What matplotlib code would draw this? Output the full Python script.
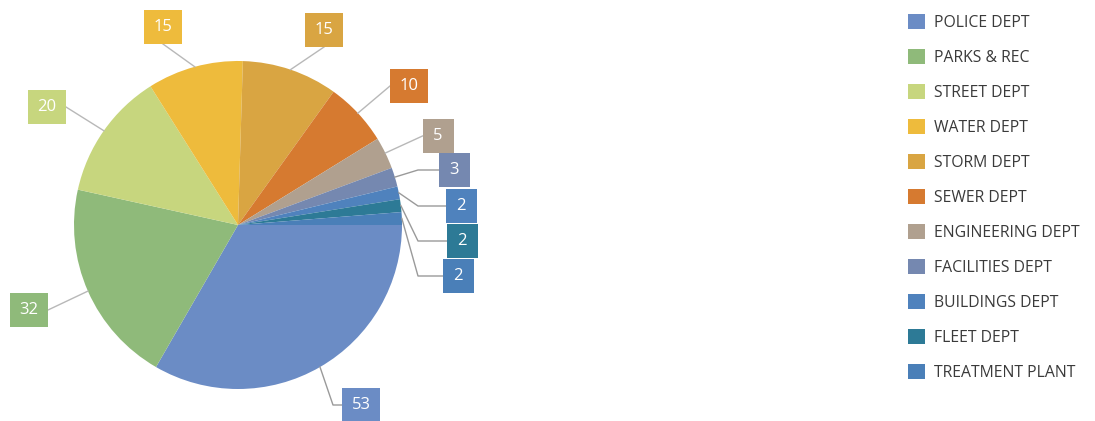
import matplotlib
matplotlib.use("Agg")
import matplotlib.pyplot as plt
from matplotlib.patches import Rectangle
import numpy as np

# ---- data ----
departments = ["POLICE DEPT", "PARKS & REC", "STREET DEPT", "WATER DEPT", "STORM DEPT",
               "SEWER DEPT", "ENGINEERING DEPT", "FACILITIES DEPT", "BUILDINGS DEPT",
               "FLEET DEPT", "TREATMENT PLANT"]
counts = [53, 32, 20, 15, 15, 10, 5, 3, 2, 2, 2]

# ---- styles / layout ----
colors = ["#6b8cc5", "#8fba7a", "#c7d67e", "#eebb3c", "#d9a542", "#d67a30",
          "#b0a08f", "#7588b0", "#4f82bd", "#2d7a96", "#4a7fb8"]
W, H = 1095, 421
# label box centers in pixel coords (x, y from top) and optional elbow x
box_pos = [(361, 405, 333), (29, 310, None), (47, 107, None), (163, 27, None),
           (324, 30, None), (409, 86, None), (438, 136, None), (454, 170, 418),
           (461, 206, 418), (462, 241, 418), (458, 276, 418)]

plt.rcParams['font.family'] = ['Open Sans', 'DejaVu Sans']
fig = plt.figure(figsize=(W / 100, H / 100), dpi=100)
ax = fig.add_axes([0, 0, 1, 1])

cx, cy, r = 238, H - 225, 164
wedges, _ = ax.pie(counts, colors=colors, startangle=0, counterclock=False,
                   center=(cx, cy), radius=r, frame=True,
                   wedgeprops=dict(linewidth=0))
ax.set_xlim(0, W)
ax.set_ylim(0, H)
ax.set_aspect('equal')
ax.axis('off')

for w, v, c, (bx, by, ex) in zip(wedges, counts, colors, box_pos):
    ang = np.deg2rad((w.theta1 + w.theta2) / 2)
    ax_x = cx + r * np.cos(ang)
    ax_y = cy + r * np.sin(ang)
    byf = H - by
    bw = 38 if v >= 10 else 31
    bh = 34
    if ex is not None:
        edge_x = bx - bw / 2
        ax.plot([ax_x, ex, edge_x], [ax_y, byf, byf], color="#9a9a9a", lw=1.0, zorder=3)
    else:
        dx, dy = bx - ax_x, byf - ax_y
        if abs(dx) / (bw / 2) > abs(dy) / (bh / 2):
            tx = bx - np.sign(dx) * bw / 2
            ty = byf
        else:
            tx = bx
            ty = byf - np.sign(dy) * bh / 2
        ax.plot([ax_x, tx], [ax_y, ty], color="#b8b8b8", lw=1.0, zorder=3)
    ax.add_patch(Rectangle((bx - bw / 2, byf - bh / 2), bw, bh, facecolor=c,
                           edgecolor="none", zorder=4))
    ax.text(bx, byf, str(v), ha='center', va='center', color='white',
            fontsize=12, zorder=5)

leg = ax.legend(wedges, departments, loc='upper left',
                bbox_to_anchor=(908 / W, 1 - 14 / H), bbox_transform=fig.transFigure,
                frameon=False, fontsize=11.3, handlelength=1.08, handleheight=1.08,
                handletextpad=0.6, labelspacing=1.16, borderpad=0, borderaxespad=0)
for t in leg.get_texts():
    t.set_color("#3a3a3a")

fig.savefig("out.png", dpi=100, facecolor="white")
